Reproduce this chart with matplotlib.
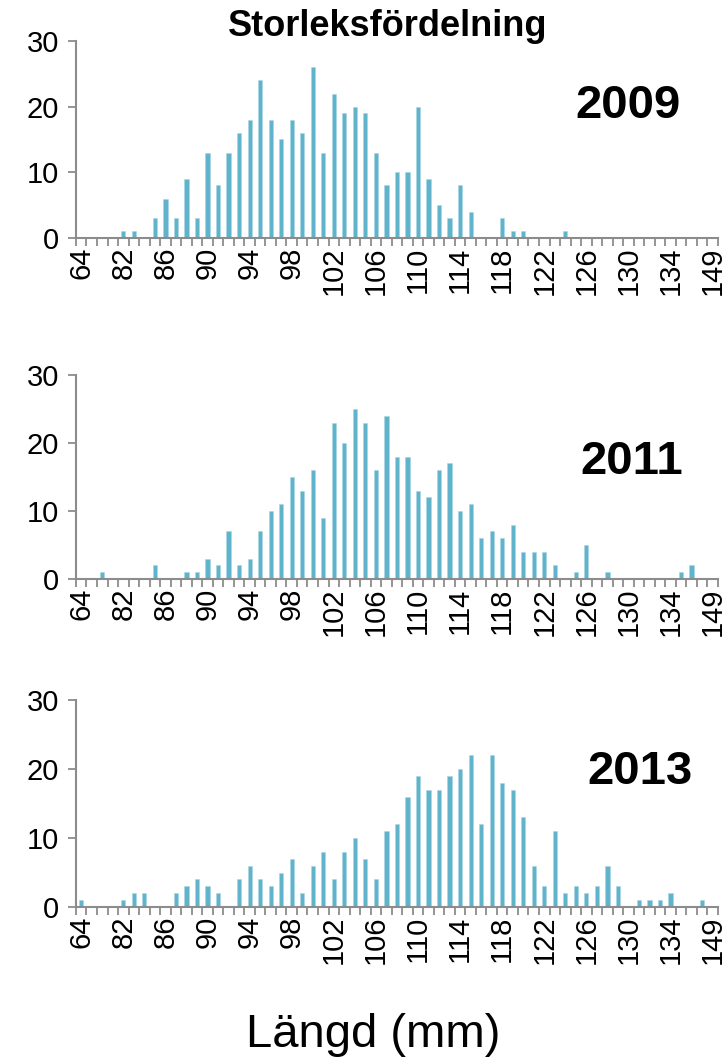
import matplotlib
matplotlib.use("Agg")
import matplotlib.pyplot as plt
import numpy as np

plt.rcParams['font.family'] = ['Liberation Sans', 'DejaVu Sans']

# length categories (mm) on the x axis
lengths = [64] + list(range(79, 138)) + [149]

# non-zero counts per length
counts_2009 = {82: 1, 83: 1, 85: 3, 86: 6, 87: 3, 88: 9, 89: 3, 90: 13, 91: 8,
               92: 13, 93: 16, 94: 18, 95: 24, 96: 18, 97: 15, 98: 18, 99: 16,
               100: 26, 101: 13, 102: 22, 103: 19, 104: 20, 105: 19, 106: 13,
               107: 8, 108: 10, 109: 10, 110: 20, 111: 9, 112: 5, 113: 3,
               114: 8, 115: 4, 118: 3, 119: 1, 120: 1, 124: 1}
counts_2011 = {80: 1, 85: 2, 88: 1, 89: 1, 90: 3, 91: 2, 92: 7, 93: 2, 94: 3,
               95: 7, 96: 10, 97: 11, 98: 15, 99: 13, 100: 16, 101: 9, 102: 23,
               103: 20, 104: 25, 105: 23, 106: 16, 107: 24, 108: 18, 109: 18,
               110: 13, 111: 12, 112: 16, 113: 17, 114: 10, 115: 11, 116: 6,
               117: 7, 118: 6, 119: 8, 120: 4, 121: 4, 122: 4, 123: 2, 125: 1,
               126: 5, 128: 1, 135: 1, 136: 2}
counts_2013 = {64: 1, 82: 1, 83: 2, 84: 2, 87: 2, 88: 3, 89: 4, 90: 3, 91: 2,
               93: 4, 94: 6, 95: 4, 96: 3, 97: 5, 98: 7, 99: 2, 100: 6, 101: 8,
               102: 4, 103: 8, 104: 10, 105: 7, 106: 4, 107: 11, 108: 12,
               109: 16, 110: 19, 111: 17, 112: 17, 113: 19, 114: 20, 115: 22,
               116: 12, 117: 22, 118: 18, 119: 17, 120: 13, 121: 6, 122: 3,
               123: 11, 124: 2, 125: 3, 126: 2, 127: 3, 128: 6, 129: 3, 131: 1,
               132: 1, 133: 1, 134: 2, 137: 1}

years = ['2009', '2011', '2013']
all_counts = [counts_2009, counts_2011, counts_2013]

bar_color = '#5fb3cb'
axis_color = '#8c8c8c'

fig = plt.figure(figsize=(7.27, 10.6), dpi=100)

# axes boxes in figure fractions [left, bottom, width, height]
boxes = [[0.1045, 0.7755, 0.883, 0.1858],
         [0.1045, 0.4538, 0.883, 0.1925],
         [0.1045, 0.1443, 0.883, 0.1953]]
year_pos = [(0.86, 0.67), (0.866, 0.573), (0.878, 0.653)]

n = len(lengths)
x = np.arange(n)
tick_idx = list(range(0, n, 4))

for box, year, counts, ypos in zip(boxes, years, all_counts, year_pos):
    ax = fig.add_axes(box)
    heights = [counts.get(l, 0) for l in lengths]
    ax.bar(x, heights, width=0.4, color=bar_color, edgecolor='#a9d6e3', linewidth=0.4)

    ax.set_xlim(-0.5, n - 0.5)
    ax.set_ylim(0, 30)
    ax.set_yticks([0, 10, 20, 30])
    ax.tick_params(axis='y', labelsize=21, length=6, width=1.3, color=axis_color, pad=6)

    ax.set_xticks(tick_idx)
    ax.set_xticklabels([str(lengths[i]) for i in tick_idx], rotation=90, fontsize=21)
    ax.set_xticks(np.arange(-0.5, n, 1), minor=True)
    ax.tick_params(axis='x', which='major', length=0, pad=6)
    ax.tick_params(axis='x', which='minor', length=6, width=1.3, color=axis_color)

    for side in ['top', 'right']:
        ax.spines[side].set_visible(False)
    for side in ['left', 'bottom']:
        ax.spines[side].set_color(axis_color)
        ax.spines[side].set_linewidth(1.5)

    ax.text(ypos[0], ypos[1], year, transform=ax.transAxes, fontsize=34,
            fontweight='bold', ha='center', va='center')

fig.text(388 / 727, 1 - 26 / 1060, 'Storleksfördelning', fontsize=26,
         fontweight='bold', ha='center', va='center')
fig.text(373 / 727, 1 - 1035 / 1060, 'Längd (mm)', fontsize=34,
         ha='center', va='center')

fig.savefig('out.png', dpi=100)
